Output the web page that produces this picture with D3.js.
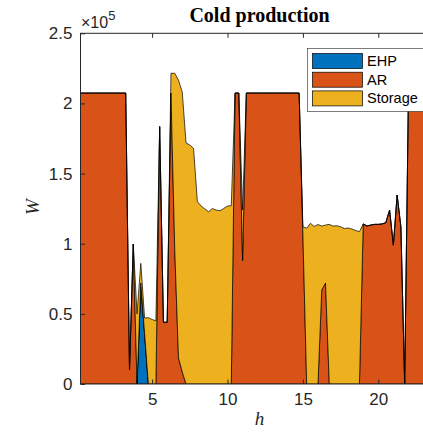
<!DOCTYPE html>
<meta charset="utf-8">
<style>
  body { margin: 0; background: #fff; }
  text { fill: #262626; }
</style>
<svg width="423" height="434"></svg>
<script src="https://d3js.org/d3.v7.min.js"></script>
<script>

// quarter-hour steps, 0.25 .. 24 h
var hours = d3.range(1, 97).map(function(k) { return k / 4; });

var seriesNames = ["EHP", "AR", "Storage"];
var seriesColors = ["#0072BD", "#D95319", "#EDB120"];

// W, one value per quarter hour
var ehp = [
  0,0,0,0,0,0,0,0,0,0,0,0,0,0,0,0,72000,36000,0,0,0,0,0,0,
  0,0,0,0,0,0,0,0,0,0,0,0,0,0,0,0,0,0,0,0,0,0,0,0,
  0,0,0,0,0,0,0,0,0,0,0,0,0,0,0,0,0,0,0,0,0,0,0,0,
  0,0,0,0,0,0,0,0,0,0,0,0,0,0,0,0,0,0,0,0,0,0,0,0
];

var ar = [
  207400,207400,207400,207400,207400,207400,207400,207400,207400,207400,207400,207400,
  207400,10000,99800,0,0,0,0,0,0,183500,44000,44000,
  207400,96000,18500,8500,0,0,0,0,0,0,0,0,
  0,0,0,0,0,207400,207400,88000,207400,207400,207400,207400,
  207400,207400,207400,207400,207400,207400,207400,207400,207400,207400,207400,107000,
  0,0,0,0,67000,72000,0,0,0,0,0,0,
  0,0,0,114100,112600,113300,113800,113800,114100,115000,124000,99000,
  134700,112000,0,207400,207400,207400,207400,207400,207400,207400,207400,207400
];

var storage = [
  0,0,0,0,0,0,0,0,0,0,0,0,
  0,0,0,50000,14000,11000,47300,46000,45000,0,0,0,
  14100,125500,198000,199500,171800,170400,167900,130000,126900,124800,122800,125100,
  124000,123500,125100,126900,127100,0,0,36000,0,0,0,0,
  0,0,0,0,0,0,0,0,0,0,0,5100,
  111000,114600,112300,113700,45600,41300,113800,112600,112800,112100,110800,111200,
  110500,109400,108600,0,0,0,0,0,0,0,0,0,
  0,0,0,0,0,0,0,0,0,0,0,0
];

var yTicks = [0, 50000, 100000, 150000, 200000, 250000];
var yTickLabels = ["0", "0.5", "1", "1.5", "2", "2.5"];
var xTicks = [5, 10, 15, 20];

var svg = d3.select("svg");
var axisColor = "#262626";

var plotL = 80.5, plotR = 438.6, plotT = 33.3, plotB = 384;

var x = d3.scaleLinear().domain([0.25, 24]).range([plotL, plotR]);
var y = d3.scaleLinear().domain([0, 250000]).range([plotB, plotT]);

var rows = hours.map(function(h, i) {
  return { h: h, EHP: ehp[i], AR: ar[i], Storage: storage[i] };
});

var stacked = d3.stack().keys(seriesNames)(rows);

svg.append("defs").append("clipPath").attr("id", "plot")
  .append("rect")
  .attr("x", plotL).attr("y", plotT)
  .attr("width", plotR - plotL).attr("height", plotB - plotT);

var area = d3.area()
  .x(function(d) { return x(d.data.h); })
  .y0(function(d) { return y(d[0]); })
  .y1(function(d) { return y(d[1]); });

svg.append("g")
  .attr("clip-path", "url(#plot)")
  .selectAll("path")
  .data(stacked)
  .enter().append("path")
  .attr("d", area)
  .attr("fill", function(d, i) { return seriesColors[i]; })
  .attr("stroke", "#000")
  .attr("stroke-width", 0.7)
  .attr("stroke-linejoin", "miter");

// box
svg.append("rect")
  .attr("x", plotL).attr("y", plotT)
  .attr("width", plotR - plotL).attr("height", plotB - plotT)
  .attr("fill", "none")
  .attr("stroke", axisColor)
  .attr("stroke-width", 1);

// inward ticks, mirrored on top
var tickLen = 4.5;
var xAxisB = d3.axisBottom(x).tickValues(xTicks).tickSizeInner(-tickLen).tickSizeOuter(0).tickPadding(9);
var xAxisT = d3.axisTop(x).tickValues(xTicks).tickSizeInner(-tickLen).tickSizeOuter(0).tickFormat("");
var yAxisL = d3.axisLeft(y).tickValues(yTicks).tickSizeInner(-tickLen).tickSizeOuter(0).tickPadding(8)
  .tickFormat(function(d, i) { return yTickLabels[i]; });

function styleAxis(g) {
  g.select(".domain").remove();
  g.selectAll(".tick line").attr("stroke", axisColor);
  g.selectAll(".tick text")
    .attr("fill", axisColor)
    .style("font-family", "'Liberation Sans', Arial, sans-serif")
    .style("font-size", "17px");
}

svg.append("g").attr("transform", "translate(0," + plotB + ")").call(xAxisB).call(styleAxis);
svg.append("g").attr("transform", "translate(0," + plotT + ")").call(xAxisT).call(styleAxis);
svg.append("g").attr("transform", "translate(" + plotL + ",0)").call(yAxisL).call(styleAxis);

// exponent label
var expo = svg.append("text")
  .attr("x", 81)
  .attr("y", 27.5)
  .style("font-family", "'Liberation Sans', Arial, sans-serif")
  .style("font-size", "16px");
expo.append("tspan").text("\u00d710");
expo.append("tspan").attr("dy", -8).style("font-size", "13px").text("5");

// title
svg.append("text")
  .attr("x", (plotL + plotR) / 2)
  .attr("y", 21.5)
  .attr("text-anchor", "middle")
  .style("font-family", "'Liberation Serif', 'Times New Roman', serif")
  .style("font-weight", "bold")
  .style("font-size", "20px")
  .style("fill", "#000")
  .text("Cold production");

// axis labels
svg.append("text")
  .attr("x", (plotL + plotR) / 2)
  .attr("y", 425)
  .attr("text-anchor", "middle")
  .style("font-family", "'Liberation Serif', 'Times New Roman', serif")
  .style("font-style", "italic")
  .style("font-size", "19px")
  .text("h");

svg.append("text")
  .attr("transform", "translate(39,207) rotate(-90)")
  .attr("text-anchor", "middle")
  .style("font-family", "'Liberation Serif', 'Times New Roman', serif")
  .style("font-style", "italic")
  .style("font-size", "19px")
  .text("W");

// legend
var legend = svg.append("g");
legend.append("rect")
  .attr("x", 307.5).attr("y", 48.5)
  .attr("width", 140).attr("height", 63)
  .attr("fill", "#fff")
  .attr("stroke", axisColor)
  .attr("stroke-width", 0.6);

seriesNames.forEach(function(name, i) {
  var yy = 53.5 + i * 18.7;
  legend.append("rect")
    .attr("x", 312.5).attr("y", yy)
    .attr("width", 50).attr("height", 15)
    .attr("fill", seriesColors[i])
    .attr("stroke", "#000")
    .attr("stroke-width", 0.7);
  legend.append("text")
    .attr("x", 367)
    .attr("y", yy + 12.5)
    .style("font-family", "'Liberation Sans', Arial, sans-serif")
    .style("font-size", "14.5px")
    .style("fill", "#000")
    .text(name);
});

</script>
